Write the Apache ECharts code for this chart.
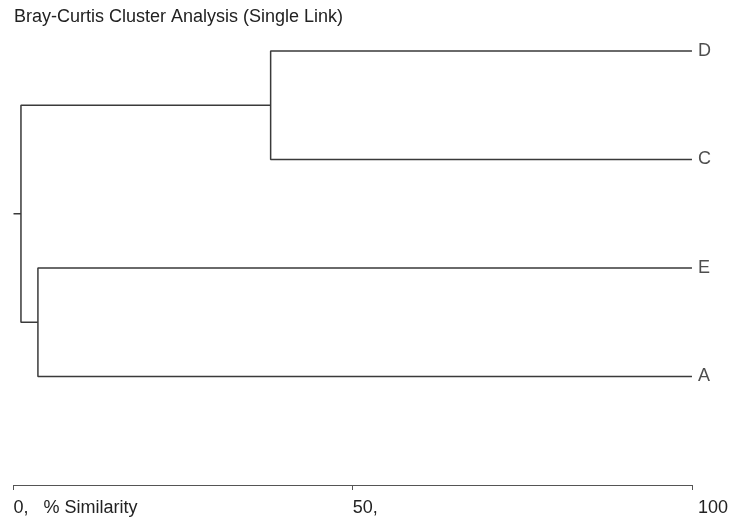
<!DOCTYPE html>
<html>
<head>
<meta charset="utf-8">
<title>Bray-Curtis Cluster Analysis</title>
<script src="https://cdn.jsdelivr.net/npm/echarts@6/dist/echarts.min.js"></script>
<style>
  html, body { margin: 0; padding: 0; background: #fff; }
  #chart { width: 731px; height: 519px; }
</style>
</head>
<body>
<div id="chart"></div>
<script>
/* Blätter von oben nach unten und ihre Position auf der y-Achse */
const leaves = ['D', 'C', 'E', 'A'];
const leafRows = [3, 2, 1, 0];

/* Verknüpfungen (Single Link) und ihre Ähnlichkeit in % */
const mergeLeft = ['D', 'E', 'DC'];
const mergeRight = ['C', 'A', 'EA'];
const mergeNames = ['DC', 'EA', 'DCEA'];
const mergeSimilarity = [37.9, 3.6, 1.1];

const xTicks = [0, 50, 100];

const LINE_COLOR = '#3a3a3a';
const TEXT_COLOR = '#222';
const FONT = '"Liberation Sans", Arial, sans-serif';
const FONT_SIZE = 18;

/* Knotenpositionen: Blätter bei 100 %, Verknüpfungen in der Mitte ihrer Kinder */
const nodes = {};
leaves.forEach((name, i) => { nodes[name] = { x: 100, y: leafRows[i] }; });

const series = [];
mergeNames.forEach((name, i) => {
  const a = nodes[mergeLeft[i]];
  const b = nodes[mergeRight[i]];
  const s = mergeSimilarity[i];
  nodes[name] = { x: s, y: (a.y + b.y) / 2 };
  series.push({
    type: 'line',
    data: [[a.x, a.y], [s, a.y], [s, b.y], [b.x, b.y]],
    symbol: 'none',
    silent: true,
    clip: false,
    lineStyle: { color: LINE_COLOR, width: 1.5 }
  });
});

/* kurzer Stiel an der Wurzel bis 0 % */
const root = nodes[mergeNames[mergeNames.length - 1]];
series.push({
  type: 'line',
  data: [[root.x, root.y], [0, root.y]],
  symbol: 'none',
  silent: true,
  clip: false,
  lineStyle: { color: LINE_COLOR, width: 1.5 }
});

/* Blattbeschriftungen */
series.push({
  type: 'scatter',
  data: leaves.map((name, i) => ({ value: [100, leafRows[i]], name })),
  symbolSize: 0,
  silent: true,
  clip: false,
  label: {
    show: true,
    position: 'right',
    distance: 6,
    formatter: (p) => p.name,
    color: TEXT_COLOR,
    fontSize: FONT_SIZE,
    fontFamily: FONT
  }
});

const chart = echarts.init(document.getElementById('chart'), null, { renderer: 'canvas' });
chart.setOption({
  animation: false,
  backgroundColor: '#fff',
  title: {
    text: 'Bray-Curtis Cluster Analysis (Single Link)',
    left: 14,
    top: 8,
    padding: 0,
    textStyle: { color: TEXT_COLOR, fontSize: FONT_SIZE, fontWeight: 'normal', fontFamily: FONT }
  },
  grid: { left: 13.5, right: 37, top: 51, bottom: 34, containLabel: false },
  xAxis: {
    type: 'value',
    min: xTicks[0],
    max: xTicks[xTicks.length - 1],
    interval: xTicks[1] - xTicks[0],
    splitLine: { show: false },
    axisLine: { show: true, onZero: false, lineStyle: { color: '#555', width: 1 } },
    axisTick: { show: true, length: 5, lineStyle: { color: '#555' } },
    axisLabel: {
      margin: 14,
      align: 'left',
      color: TEXT_COLOR,
      fontSize: FONT_SIZE,
      fontFamily: FONT,
      formatter: (v) => {
        if (v === 0) return '0,   % Similarity';
        if (v === 100) return '{r|100}';
        return v + ',';
      },
      rich: {
        r: { color: TEXT_COLOR, fontSize: FONT_SIZE, fontFamily: FONT, padding: [0, 0, 0, 6] }
      }
    }
  },
  yAxis: {
    type: 'value',
    min: -1,
    max: 3,
    show: false
  },
  series
});
</script>
</body>
</html>
